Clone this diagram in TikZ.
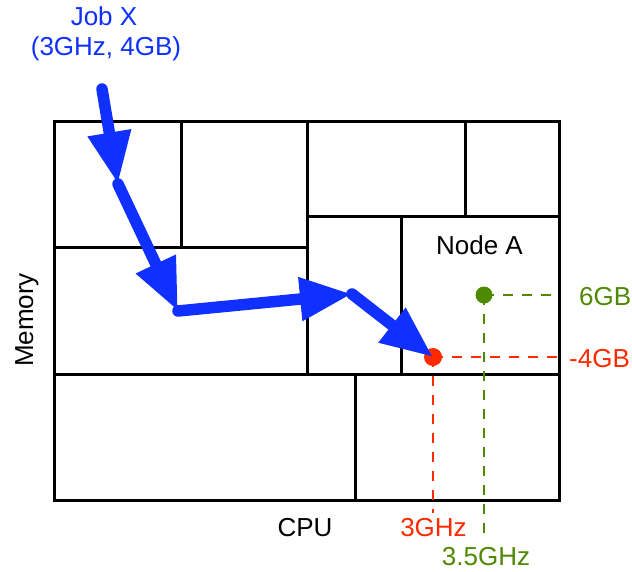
\documentclass[tikz,border=0pt]{standalone}
\usepackage{fontspec}
\setmainfont{Liberation Sans}
\usetikzlibrary{arrows.meta}
\definecolor{jobblue}{RGB}{16,48,255}
\definecolor{ptred}{RGB}{255,42,0}
\definecolor{ptgreen}{RGB}{78,138,0}
\begin{document}
\begin{tikzpicture}[x=1pt,y=-1pt,
  txt/.style={inner sep=0pt,font=\fontsize{26}{30}\selectfont},
  grid/.style={line width=3pt,black},
  guide/.style={line width=2.6pt,dash pattern=on 10pt off 9pt},
  dot/.style={circle,inner sep=0pt,minimum size=18pt},
  jobarrow/.style={jobblue,line width=11.5pt,line cap=round,
    -{Triangle[length=52pt,width=41pt]}}]
\useasboundingbox (0,0) rectangle (632,571);
% partition grid
\draw[grid] (54,121) rectangle (559,500);
\draw[grid] (54,247) -- (307,247);
\draw[grid] (54,374) -- (559,374);
\draw[grid] (307,216) -- (559,216);
\draw[grid] (181,121) -- (181,247);
\draw[grid] (307,121) -- (307,374);
\draw[grid] (465,121) -- (465,216);
\draw[grid] (401,216) -- (401,374);
\draw[grid] (355,374) -- (355,500);
% labels
\node[txt,jobblue,anchor=base] (jobx) at (104,25) {Job X};
\node[txt,jobblue,anchor=base] (jobres) at (106,55) {(3GHz, 4GB)};
\node[txt,anchor=base] (cpu) at (305,536) {CPU};
\node[txt,anchor=base,rotate=90] (mem) at (33,320) {Memory};
\node[txt,anchor=base] (nodea) at (479.5,254) {Node A};
% guide lines
\coordinate (rh) at (559,357);
\coordinate (rv) at (433,513);
\coordinate (gh) at (559,295);
\coordinate (gv) at (484,540);
\draw[guide,ptred] (433,357) -- (rh);
\draw[guide,ptred] (433,357) -- (rv);
\draw[guide,ptgreen] (484,295) -- (gh);
\draw[guide,ptgreen] (484,295) -- (gv);
\node[dot,fill=ptred] (rdot) at (433,357) {};
\node[dot,fill=ptgreen,minimum size=17pt] (gdot) at (484,295) {};
\node[txt,ptred,anchor=base west] (l4gb) at (569,367) {-4GB};
\node[txt,ptgreen,anchor=base west] (l6gb) at (579,305) {6GB};
\node[txt,ptred,anchor=base] (l3ghz) at (433.5,536) {3GHz};
\node[txt,ptgreen,anchor=base] (l35ghz) at (486,565) {3.5GHz};
% job path
\coordinate (p0) at (102,89);
\coordinate (p1) at (118,184);
\coordinate (p2) at (178,311);
\coordinate (p3) at (352,294);
\draw[jobarrow] (p0) -- (p1);
\draw[jobarrow] (p1) -- (p2);
\draw[jobarrow] (p2) -- (p3);
\draw[jobarrow] (p3) -- (rdot.center);
\end{tikzpicture}
\end{document}
